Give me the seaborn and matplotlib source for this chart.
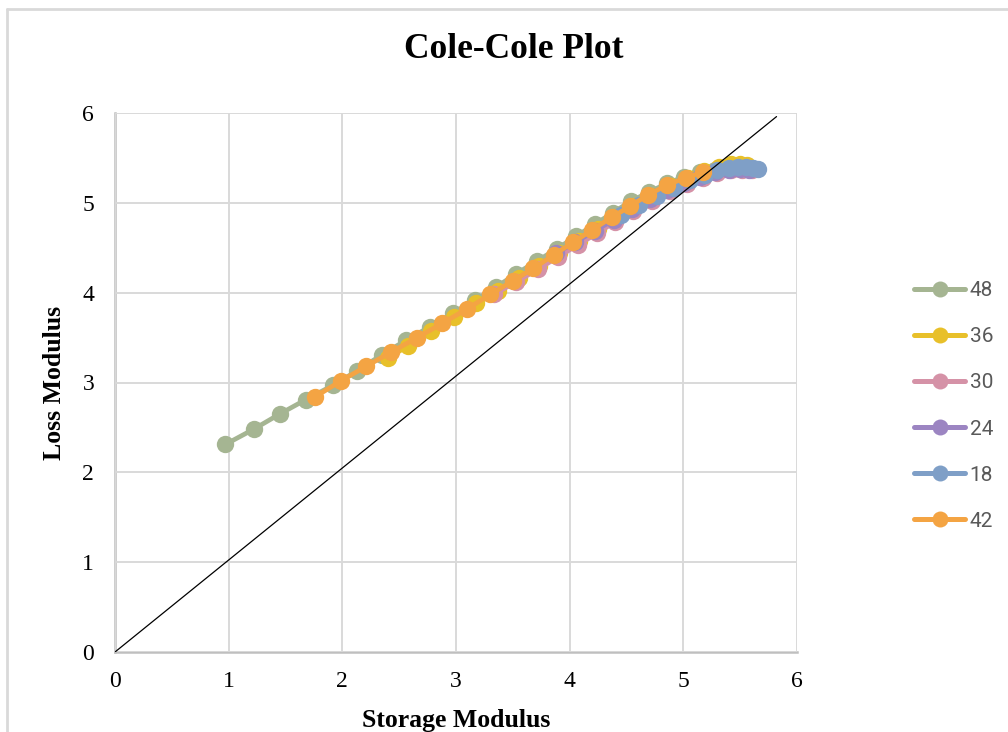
import matplotlib
matplotlib.use("Agg")
import matplotlib.pyplot as plt
import seaborn as sns
from matplotlib.lines import Line2D

# ---- data ----
s48_x = [0.97, 1.22, 1.45, 1.68, 1.92, 2.13, 2.35, 2.56, 2.77, 2.97, 3.17, 3.35, 3.53,
         3.71, 3.89, 4.06, 4.22, 4.38, 4.54, 4.70, 4.86, 5.01, 5.15, 5.28, 5.40]
s48_y = [2.31, 2.48, 2.65, 2.81, 2.97, 3.13, 3.31, 3.47, 3.62, 3.77, 3.92, 4.06, 4.21,
         4.35, 4.49, 4.63, 4.76, 4.89, 5.02, 5.12, 5.22, 5.29, 5.34, 5.37, 5.39]

s36_x = [2.40, 2.58, 2.78, 2.98, 3.18, 3.37, 3.55, 3.73, 3.91, 4.08, 4.25, 4.41, 4.57,
         4.73, 4.89, 5.04, 5.18, 5.31, 5.42, 5.50, 5.56]
s36_y = [3.27, 3.41, 3.57, 3.73, 3.88, 4.02, 4.16, 4.30, 4.44, 4.58, 4.71, 4.84, 4.96,
         5.08, 5.19, 5.28, 5.35, 5.40, 5.43, 5.43, 5.42]

s30_x = [3.33, 3.53, 3.72, 3.90, 4.07, 4.24, 4.40, 4.56, 4.72, 4.88, 5.03, 5.17, 5.30,
         5.42, 5.52, 5.60]
s30_y = [3.98, 4.12, 4.26, 4.40, 4.53, 4.66, 4.79, 4.91, 5.02, 5.13, 5.21, 5.28, 5.33,
         5.36, 5.37, 5.36]

s24_x = [3.88, 4.05, 4.22, 4.39, 4.55, 4.71, 4.86, 5.01, 5.15, 5.28, 5.40, 5.50, 5.58]
s24_y = [4.44, 4.56, 4.69, 4.81, 4.93, 5.04, 5.14, 5.22, 5.29, 5.34, 5.37, 5.38, 5.37]

s18_x = [4.45, 4.61, 4.77, 4.92, 5.06, 5.19, 5.30, 5.40, 5.48, 5.55, 5.61, 5.66]
s18_y = [4.86, 4.98, 5.08, 5.17, 5.25, 5.31, 5.36, 5.39, 5.40, 5.40, 5.39, 5.38]

s42_x = [1.76, 1.99, 2.21, 2.43, 2.66, 2.88, 3.10, 3.30, 3.50, 3.68, 3.86, 4.03, 4.20,
         4.37, 4.53, 4.69, 4.86, 5.02, 5.17]
s42_y = [2.84, 3.02, 3.18, 3.34, 3.50, 3.66, 3.82, 3.98, 4.13, 4.27, 4.42, 4.56, 4.70,
         4.84, 4.96, 5.09, 5.20, 5.28, 5.34]

ref_x = [0, 5.82]
ref_y = [0, 5.96]

series_names = ["48", "36", "30", "24", "18", "42"]
series_x = [s48_x, s36_x, s30_x, s24_x, s18_x, s42_x]
series_y = [s48_y, s36_y, s30_y, s24_y, s18_y, s42_y]
colors = ["#A5B592", "#E8C02A", "#D592A7", "#9C85C2", "#7F9FC7", "#F4A443"]

ticks = [0, 1, 2, 3, 4, 5, 6]

# ---- figure ----
sns.set_theme(style="white")
plt.rcParams['font.family'] = ['Liberation Serif', 'DejaVu Serif']
plt.rcParams['text.color'] = 'black'
plt.rcParams['axes.labelcolor'] = 'black'

fig = plt.figure(figsize=(10.08, 7.32), dpi=100)
ax = fig.add_axes([115 / 1008, 80 / 732, 682 / 1008, 539 / 732])

for name, xs, ys, c in zip(series_names, series_x, series_y, colors):
    sns.lineplot(x=xs, y=ys, ax=ax, color=c, marker="o", markersize=12.5,
                 markeredgewidth=0, linewidth=3.4, sort=False, label=name,
                 legend=False)

ax.plot(ref_x, ref_y, color="black", linewidth=0.9, zorder=5)

ax.set_xlim(0, 6)
ax.set_ylim(0, 6)
ax.set_xticks(ticks)
ax.set_yticks(ticks)
ax.grid(True, color="#D9D9D9", linewidth=1.4)
ax.set_axisbelow(True)
for side in ["top", "right"]:
    ax.spines[side].set_visible(False)
for side in ["left", "bottom"]:
    ax.spines[side].set_color("#BFBFBF")
    ax.spines[side].set_linewidth(1.8)
    ax.spines[side].set_zorder(0.5)
ax.tick_params(axis="both", length=0, labelsize=17, labelcolor="black")
ax.tick_params(axis="x", pad=14)
ax.tick_params(axis="y", pad=15)

ax.set_xlabel("Storage Modulus", fontsize=18.5, fontweight="bold", labelpad=12)
ax.set_ylabel("Loss Modulus", fontsize=18.5, fontweight="bold", labelpad=12)
fig.text(514 / 1008, 1 - 50 / 732, "Cole-Cole Plot", ha="center", va="center",
         fontsize=25.5, fontweight="bold", color="black")

# legend
handles = [Line2D([0], [0], color=c, linewidth=3.6, marker="o", markersize=11.5,
                  markeredgewidth=0) for c in colors]
leg = fig.legend(handles, series_names, loc="center left",
                 bbox_to_anchor=(906 / 1008, 1 - 406 / 732), frameon=False,
                 prop={"family": "Roboto", "size": 15}, labelcolor="#595959",
                 handlelength=2.45, handletextpad=0.2, labelspacing=1.3,
                 borderaxespad=0)

# outer chart frame
fig.add_artist(Line2D([7 / 1008, 1], [1 - 9 / 732, 1 - 9 / 732],
                      transform=fig.transFigure, color="#D9D9D9", linewidth=2))
fig.add_artist(Line2D([7 / 1008, 7 / 1008], [0, 1 - 9 / 732],
                      transform=fig.transFigure, color="#D9D9D9", linewidth=2))

fig.savefig("out.png", dpi=100)
plt.close(fig)
